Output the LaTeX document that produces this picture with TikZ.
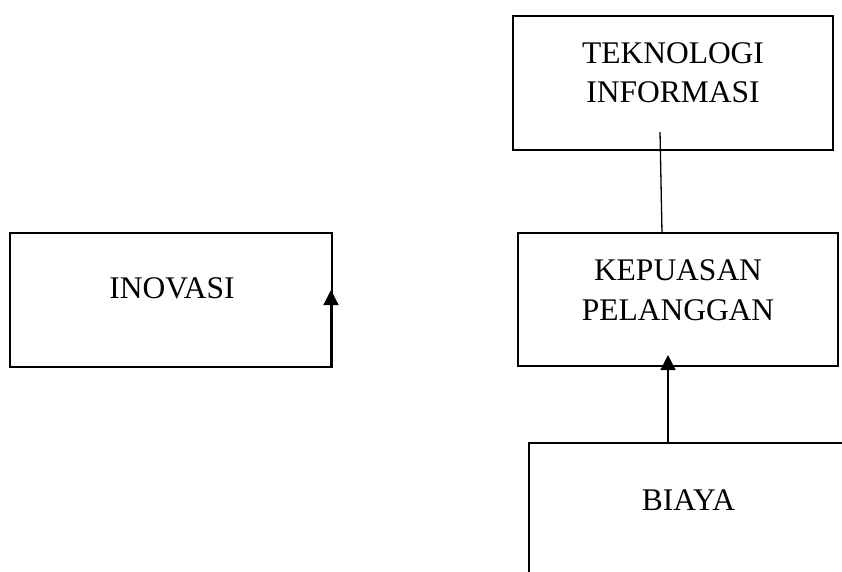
\documentclass[tikz,border=0pt]{standalone}
\usepackage{fontspec}
\setmainfont{Liberation Serif}
\usetikzlibrary{arrows.meta,calc}
\begin{document}
\begin{tikzpicture}[x=1pt,y=-1pt,
  box/.style={draw,line width=2pt,rectangle,inner sep=0pt,outer sep=0pt},
  lbl/.style={font=\fontsize{31.5}{40}\selectfont,anchor=base,inner sep=0pt},
  conn/.style={line width=1.3pt},
  arr/.style={line width=1.3pt,-{Triangle[length=15pt,width=15pt]}}]
\useasboundingbox (0,0) rectangle (842,571);
\clip (0,0) rectangle (842,571);
\node[box,minimum width=320pt,minimum height=134pt] (tek) at (673,83) {};
\node[box,minimum width=320pt,minimum height=133pt] (kep) at (678,299.5) {};
\node[box,minimum width=322pt,minimum height=134pt] (ino) at (171,300) {};
\node[box,minimum width=319pt,minimum height=160pt] (bia) at (688.5,523) {};
\node[lbl] (t1) at (673,63) {TEKNOLOGI};
\node[lbl] (t2) at (673,102) {INFORMASI};
\node[lbl] (k1) at (678,280) {KEPUASAN};
\node[lbl] (k2) at (678,320) {PELANGGAN};
\node[lbl] (i1) at (172,298) {INOVASI};
\node[lbl] (b1) at (688.5,510) {BIAYA};
\coordinate (c1) at ($(tek.south west)+(147,-18)$);
\coordinate (c2) at ($(kep.north west)+(144,0)$);
\draw[conn] (c1) -- (c2);
\coordinate (a1) at ($(bia.north west)+(139,0)$);
\coordinate (a2) at ($(kep.south west)+(150,-11)$);
\draw[arr] (a1) -- (a2);
\coordinate (s1) at ($(ino.south east)+(-1,0)$);
\coordinate (s2) at ($(ino.north east)+(-1,57)$);
\draw[arr] (s1) -- (s2);
\end{tikzpicture}
\end{document}
